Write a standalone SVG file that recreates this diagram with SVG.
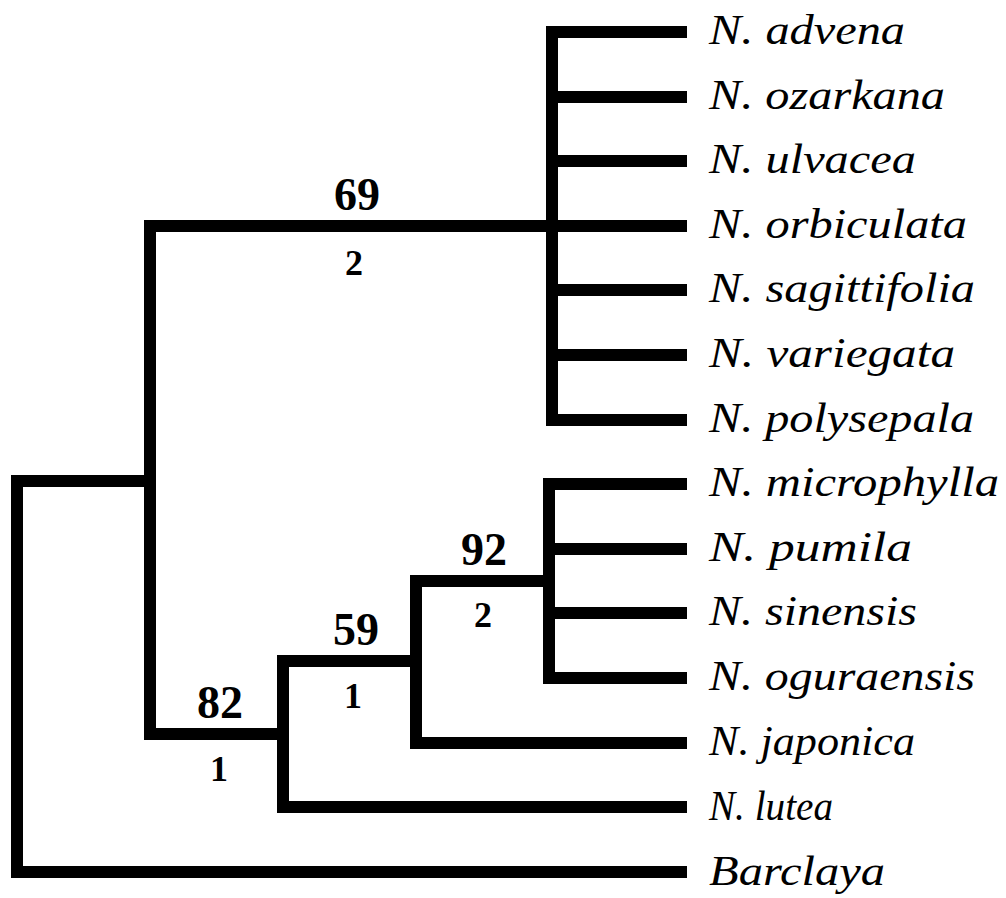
<svg xmlns="http://www.w3.org/2000/svg" width="1006" height="898" viewBox="0 0 1006 898">
<style>
.br{fill:none;stroke:#000;stroke-width:12;stroke-linejoin:miter;stroke-linecap:butt}
.tx{font-family:"Liberation Serif","Times New Roman",serif;font-style:italic;font-size:42px;fill:#000}
.bs{font-family:"Liberation Serif","Times New Roman",serif;font-weight:bold;font-size:46px;fill:#000;text-anchor:middle}
.bd{font-family:"Liberation Serif","Times New Roman",serif;font-weight:bold;font-size:36px;fill:#000;text-anchor:middle}
</style>
<rect width="1006" height="898" fill="#fff"/>
<g id="connectors">
<path class="br" d="M150,481 H17 V872 H687"/>
<path class="br" d="M552,226 H150 V734 H283"/>
<path class="br" d="M687,32 H552 V420 H687"/>
<path class="br" d="M552,97 H687 M552,161 H687 M552,226 H687 M552,290 H687 M552,355 H687"/>
<path class="br" d="M416,661 H283 V807 H687"/>
<path class="br" d="M549,581 H416 V743 H687"/>
<path class="br" d="M687,484 H549 V678 H687"/>
<path class="br" d="M549,549 H687 M549,613 H687"/>
</g>
<g id="support">
<text class="bs" x="357" y="210">69</text>
<text class="bd" x="354" y="275">2</text>
<text class="bs" x="484" y="565">92</text>
<text class="bd" x="483" y="627">2</text>
<text class="bs" x="356" y="645">59</text>
<text class="bd" x="353" y="708">1</text>
<text class="bs" x="220" y="718">82</text>
<text class="bd" x="219" y="781">1</text>
</g>
<g id="leaf-advena"><text class="tx" x="709" y="44" textLength="196" lengthAdjust="spacingAndGlyphs">N. advena</text></g>
<g id="leaf-ozarkana"><text class="tx" x="709" y="109" textLength="236" lengthAdjust="spacingAndGlyphs">N. ozarkana</text></g>
<g id="leaf-ulvacea"><text class="tx" x="709" y="173" textLength="207" lengthAdjust="spacingAndGlyphs">N. ulvacea</text></g>
<g id="leaf-orbiculata"><text class="tx" x="709" y="238" textLength="258" lengthAdjust="spacingAndGlyphs">N. orbiculata</text></g>
<g id="leaf-sagittifolia"><text class="tx" x="709" y="302" textLength="266" lengthAdjust="spacingAndGlyphs">N. sagittifolia</text></g>
<g id="leaf-variegata"><text class="tx" x="709" y="367" textLength="246" lengthAdjust="spacingAndGlyphs">N. variegata</text></g>
<g id="leaf-polysepala"><text class="tx" x="709" y="432" textLength="265" lengthAdjust="spacingAndGlyphs">N. polysepala</text></g>
<g id="leaf-microphylla"><text class="tx" x="709" y="496" textLength="290" lengthAdjust="spacingAndGlyphs">N. microphylla</text></g>
<g id="leaf-pumila"><text class="tx" x="709" y="561" textLength="203" lengthAdjust="spacingAndGlyphs">N. pumila</text></g>
<g id="leaf-sinensis"><text class="tx" x="709" y="625" textLength="208" lengthAdjust="spacingAndGlyphs">N. sinensis</text></g>
<g id="leaf-oguraensis"><text class="tx" x="709" y="690" textLength="266" lengthAdjust="spacingAndGlyphs">N. oguraensis</text></g>
<g id="leaf-japonica"><text class="tx" x="709" y="755" textLength="206" lengthAdjust="spacingAndGlyphs">N. japonica</text></g>
<g id="leaf-lutea"><text class="tx" x="709" y="820" font-size="44" textLength="124" lengthAdjust="spacingAndGlyphs">N. lutea</text></g>
<g id="leaf-barclaya"><text class="tx" x="709" y="885" font-size="44" textLength="176" lengthAdjust="spacingAndGlyphs">Barclaya</text></g>
</svg>
